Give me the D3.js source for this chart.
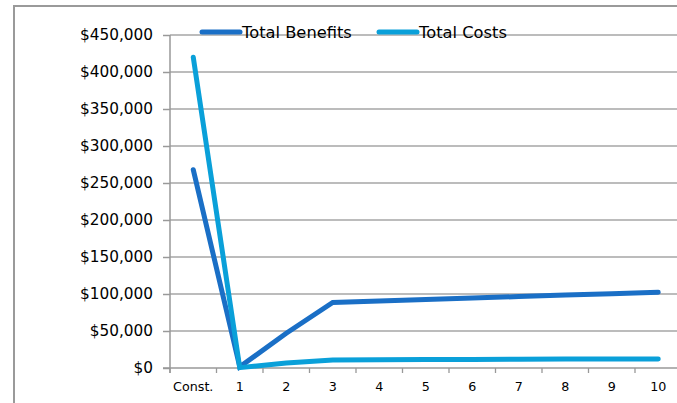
<!DOCTYPE html>
<html>
<head>
<meta charset="utf-8">
<script src="https://cdn.jsdelivr.net/npm/d3@7"></script>
<style>
  html, body { margin: 0; padding: 0; background: #fff; }
  svg { display: block; font-family: "DejaVu Sans", Verdana, sans-serif; }
</style>
</head>
<body>
<svg id="chart" width="677" height="403"></svg>
<script>
// Period labels along the x axis
const periods = ["Const.", "1", "2", "3", "4", "5", "6", "7", "8", "9", "10"];
// Dollar amounts per period
const totalBenefits = [268000, 1500, 47000, 88500, 90500, 92500, 94500, 96500, 98500, 100500, 102300];
const totalCosts    = [420000, 500, 6600, 10800, 11200, 11400, 11600, 11800, 12000, 12100, 12200];
// Y axis tick values
const yTicks = [0, 50000, 100000, 150000, 200000, 250000, 300000, 350000, 400000, 450000];

const seriesNames  = ["Total Benefits", "Total Costs"];
const seriesColors = ["#1a6fc6", "#0aa0d9"];

const svg = d3.select("#chart");
const W = 677, H = 403;
const plotL = 170, plotR = 681.5, plotT = 35, plotB = 368;

const x = d3.scaleBand().domain(periods).range([plotL, plotR]).paddingInner(0).paddingOuter(0);
const y = d3.scaleLinear().domain([0, 450000]).range([plotB, plotT]);

// outer frame of the chart area
svg.append("path")
  .attr("d", `M14,${H + 2} V6 H${W + 2}`)
  .attr("fill", "none")
  .attr("stroke", "#9a9a9a")
  .attr("stroke-width", 2);

// horizontal gridlines
svg.append("g")
  .selectAll("line")
  .data(yTicks.filter(d => d > 0))
  .join("line")
  .attr("x1", plotL).attr("x2", W)
  .attr("y1", d => y(d)).attr("y2", d => y(d))
  .attr("stroke", "#a6a6a6")
  .attr("stroke-width", 1.6);

// y axis
const yAxis = d3.axisLeft(y)
  .tickValues(yTicks)
  .tickSize(7)
  .tickPadding(10)
  .tickFormat(d => "$" + d3.format(",")(d));
const gy = svg.append("g").attr("transform", `translate(${plotL},0)`).call(yAxis);
gy.select(".domain").remove();
gy.selectAll(".tick line").attr("stroke", "#999").attr("stroke-width", 1.5);
gy.selectAll(".tick text")
  .attr("fill", "#000")
  .style("font-size", "15.3px")
  .style("font-family", "\"DejaVu Sans\", Verdana, sans-serif");
gy.append("line")
  .attr("x1", 0).attr("x2", 0)
  .attr("y1", plotT).attr("y2", plotB + 5)
  .attr("stroke", "#999").attr("stroke-width", 1.5);

// x axis: ticks sit on the band boundaries, labels at band centres
const gx = svg.append("g");
gx.append("line")
  .attr("x1", plotL - 7).attr("x2", W)
  .attr("y1", plotB).attr("y2", plotB)
  .attr("stroke", "#999").attr("stroke-width", 1.5);
gx.selectAll("line.tk")
  .data(periods)
  .join("line")
  .attr("class", "tk")
  .attr("x1", d => x(d)).attr("x2", d => x(d))
  .attr("y1", plotB).attr("y2", plotB + 5)
  .attr("stroke", "#999").attr("stroke-width", 1.3);
gx.selectAll("text")
  .data(periods)
  .join("text")
  .attr("x", d => x(d) + x.bandwidth() / 2)
  .attr("y", 391)
  .attr("text-anchor", "middle")
  .style("font-size", "12.7px")
  .attr("fill", "#000")
  .text(d => d);

// series lines
const line = d3.line()
  .x((d, i) => x(periods[i]) + x.bandwidth() / 2)
  .y(d => y(d));

[totalBenefits, totalCosts].forEach((vals, k) => {
  svg.append("path")
    .datum(vals)
    .attr("d", line)
    .attr("fill", "none")
    .attr("stroke", seriesColors[k])
    .attr("stroke-width", 5)
    .attr("stroke-linecap", "round")
    .attr("stroke-linejoin", "miter");
});

// legend
const legendX = [202, 379];
const lg = svg.append("g");
seriesNames.forEach((name, k) => {
  lg.append("line")
    .attr("x1", legendX[k]).attr("x2", legendX[k] + 38)
    .attr("y1", 32).attr("y2", 32)
    .attr("stroke", seriesColors[k])
    .attr("stroke-width", 5)
    .attr("stroke-linecap", "round");
  lg.append("text")
    .attr("x", legendX[k] + 40)
    .attr("y", 37.5)
    .style("font-size", "16.3px")
    .attr("fill", "#000")
    .text(name);
});
</script>
</body>
</html>
